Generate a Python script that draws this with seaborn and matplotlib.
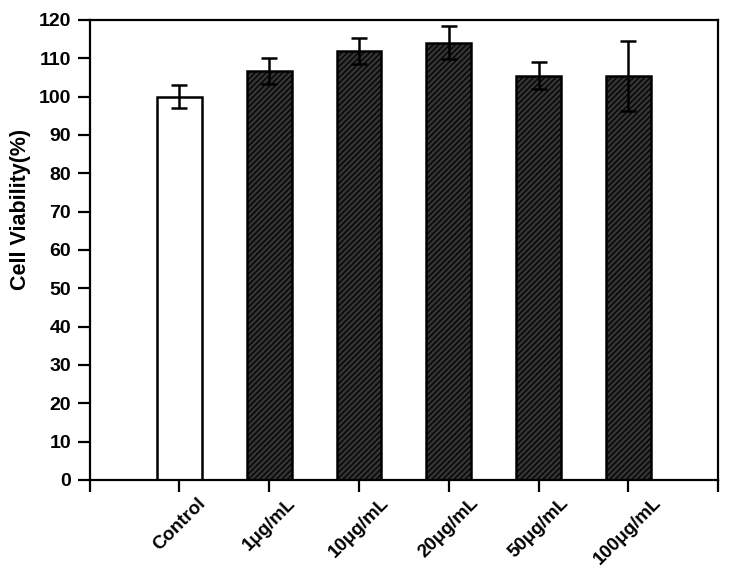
import matplotlib
matplotlib.use('Agg')
import matplotlib.pyplot as plt
import seaborn as sns
import pandas as pd

# valores
grupos = ['Control', '1μg/mL', '10μg/mL', '20μg/mL', '50μg/mL', '100μg/mL']
viabilidade = [100.0, 106.7, 112.0, 114.0, 105.4, 105.4]
erro = [3.0, 3.4, 3.4, 4.3, 3.5, 9.1]
cores = ['white', '#333333', '#333333', '#333333', '#333333', '#333333']

sns.set_style('ticks')
plt.rcParams['font.family'] = ['Liberation Sans', 'DejaVu Sans']
plt.rcParams['font.weight'] = 'bold'
plt.rcParams['hatch.linewidth'] = 0.9
plt.rcParams['text.color'] = 'black'
plt.rcParams['axes.labelcolor'] = 'black'
plt.rcParams['xtick.color'] = 'black'
plt.rcParams['ytick.color'] = 'black'

df = pd.DataFrame({'grupo': grupos, 'valor': viabilidade})

fig = plt.figure(figsize=(7.29, 5.70), dpi=100)
ax = fig.add_axes([0.123, 0.158, 0.862, 0.807])

sns.barplot(data=df, x='grupo', y='valor', hue='grupo', palette=cores,
            width=0.5, errorbar=None, legend=False, ax=ax,
            edgecolor='black', linewidth=1.8, saturation=1)

# hachura nas barras escuras
for i, barra in enumerate(ax.patches):
    if i > 0:
        barra.set_hatch('//////')

ax.errorbar(range(len(grupos)), viabilidade, yerr=erro, fmt='none',
            ecolor='black', elinewidth=1.8, capsize=5.5, capthick=1.8)

ax.set_xlim(-1, 6)
ax.set_ylim(0, 120)
ax.set_yticks(range(0, 121, 10))
ax.set_xticks(range(-1, 7))
ax.set_xticklabels([''] + grupos + [''], rotation=45, ha='center',
                   fontsize=13.5, fontweight='bold')
ax.tick_params(axis='y', labelsize=14, width=1.6, length=8.5, pad=5,
               direction='out', colors='black')
ax.tick_params(axis='x', width=1.6, length=8.5, pad=2, direction='out',
               colors='black')
for t in ax.get_yticklabels():
    t.set_fontweight('bold')

for s in ax.spines.values():
    s.set_linewidth(1.6)
    s.set_color('black')
    s.set_visible(True)

ax.set_xlabel('')
ax.set_ylabel('Cell Viability(%)', fontsize=15.5, fontweight='bold')
ax.yaxis.set_label_coords(-0.093, 0.587)

fig.savefig('out.png', dpi=100)
